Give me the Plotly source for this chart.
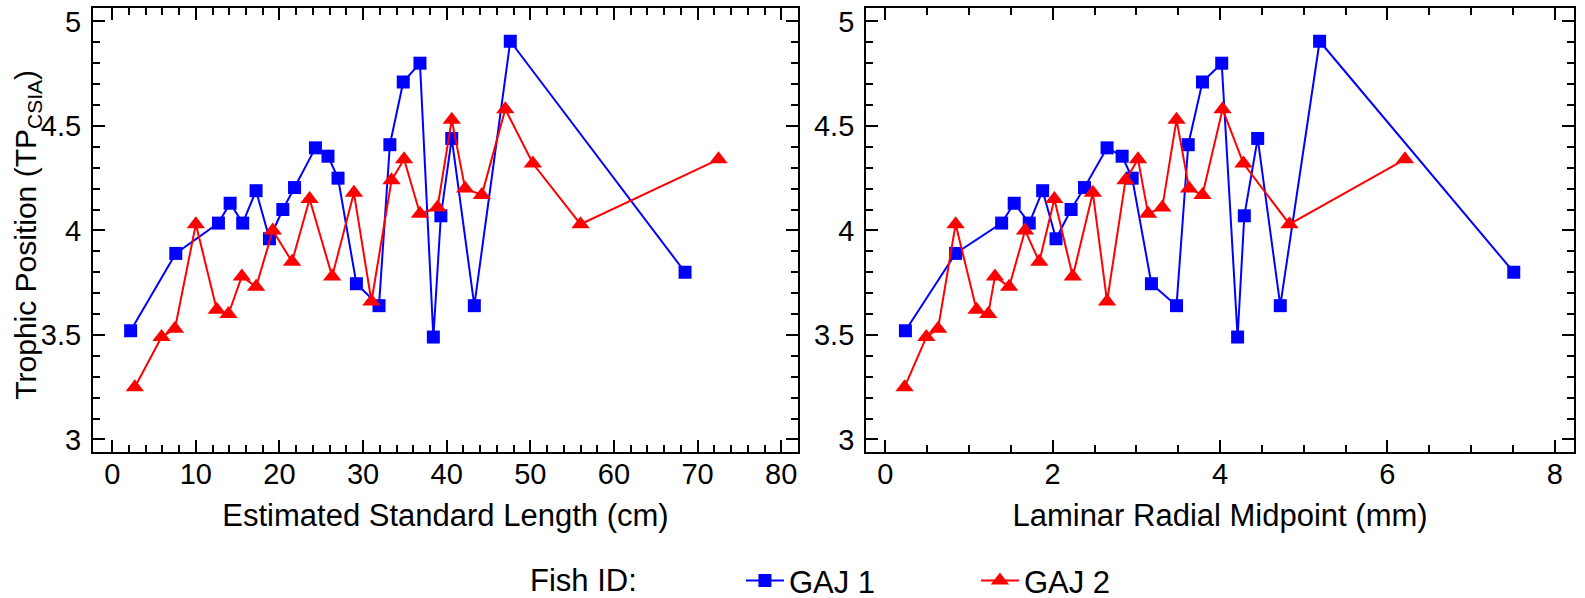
import plotly.graph_objects as go
from plotly.subplots import make_subplots

# ---- data ----
gaj1_length_cm = [2.2, 7.6, 12.7, 14.1, 15.6, 17.2, 18.8, 20.4, 21.8, 24.3, 25.8, 27.0,
                  29.2, 31.9, 33.2, 34.8, 36.8, 38.4, 39.3, 40.6, 43.3, 47.6, 68.5]
gaj1_radial_mm = [0.24, 0.84, 1.39, 1.54, 1.72, 1.88, 2.04, 2.22, 2.38, 2.65, 2.83, 2.95,
                  3.18, 3.48, 3.62, 3.79, 4.02, 4.21, 4.29, 4.45, 4.72, 5.19, 7.51]
gaj1_tp = [3.52, 3.89, 4.035, 4.13, 4.035, 4.19, 3.96, 4.10, 4.205, 4.395, 4.355, 4.25,
           3.745, 3.64, 4.41, 4.71, 4.80, 3.49, 4.07, 4.44, 3.64, 4.905, 3.80]

gaj2_length_cm = [2.7, 5.9, 7.5, 10.0, 12.5, 13.9, 15.5, 17.2, 19.2, 21.5, 23.6, 26.3,
                  28.9, 31.0, 33.4, 34.9, 36.8, 38.9, 40.6, 42.2, 44.2, 47.0, 50.3, 56.0, 72.5]
gaj2_radial_mm = [0.23, 0.49, 0.63, 0.84, 1.09, 1.23, 1.31, 1.48, 1.67, 1.84, 2.02, 2.24,
                  2.48, 2.65, 2.87, 3.02, 3.14, 3.31, 3.48, 3.63, 3.79, 4.03, 4.28, 4.83, 6.21]
gaj2_tp = [3.25, 3.49, 3.53, 4.03, 3.62, 3.60, 3.78, 3.73, 4.00, 3.85, 4.15, 3.78,
           4.18, 3.66, 4.24, 4.34, 4.08, 4.11, 4.53, 4.20, 4.17, 4.58, 4.32, 4.03, 4.34]

series_names = ["GAJ 1", "GAJ 2"]
x_titles = ["Estimated Standard Length (cm)", "Laminar Radial Midpoint (mm)"]
y_title = "Trophic Position (TP<sub>CSIA</sub>)"
legend_title = "Fish ID:"

BLUE = "#0000FF"
RED = "#FF0000"
FONT = "Liberation Sans, Arial, sans-serif"

fig = make_subplots(rows=1, cols=2, horizontal_spacing=0.046)

def add_series(x, y, name, color, symbol, size, col, show):
    fig.add_trace(go.Scatter(
        x=x, y=y, mode="lines+markers", name=name, legendgroup=name, showlegend=show,
        line=dict(color=color, width=2),
        marker=dict(color=color, symbol=symbol, size=size, line=dict(width=0)),
    ), row=1, col=col)

add_series(gaj1_length_cm, gaj1_tp, series_names[0], BLUE, "square", 13, 1, True)
add_series(gaj2_length_cm, gaj2_tp, series_names[1], RED, "triangle-up", 16, 1, True)
add_series(gaj1_radial_mm, gaj1_tp, series_names[0], BLUE, "square", 13, 2, False)
add_series(gaj2_radial_mm, gaj2_tp, series_names[1], RED, "triangle-up", 16, 2, False)

axis_common = dict(
    showline=True, linecolor="black", linewidth=2, mirror="ticks",
    ticks="inside", ticklen=12, tickwidth=2, tickcolor="black",
    showgrid=False, zeroline=False,
    tickfont=dict(family=FONT, size=29, color="black"),
    automargin=False,
)

fig.update_xaxes(axis_common)
fig.update_yaxes(axis_common)

fig.update_xaxes(row=1, col=1, domain=[0.0, 0.476], range=[-2.3, 82.0],
                 tickmode="linear", tick0=0, dtick=10, ticklabelstandoff=-5,
                 minor=dict(ticks="inside", ticklen=7, tickwidth=1.5, tickcolor="black",
                            tickmode="array", tickvals=list(range(0, 81, 2))),
                 title=dict(text=x_titles[0], font=dict(family=FONT, size=31, color="black"), standoff=16))
fig.update_xaxes(row=1, col=2, domain=[0.522, 1.0], range=[-0.23, 8.23],
                 tickmode="linear", tick0=0, dtick=2, ticklabelstandoff=-5,
                 minor=dict(ticks="inside", ticklen=7, tickwidth=1.5, tickcolor="black", dtick=0.5),
                 title=dict(text=x_titles[1], font=dict(family=FONT, size=31, color="black"), standoff=16))

for c in (1, 2):
    fig.update_yaxes(row=1, col=c, range=[2.94, 5.064], tickmode="linear", tick0=3, dtick=0.5,
                     minor=dict(ticks="inside", ticklen=7, tickwidth=1.5, tickcolor="black", dtick=0.1),
                     ticklabelstandoff=4)

# y-axis title as rotated text
fig.add_annotation(text=y_title, xref="paper", yref="paper", x=-0.0444, y=0.49,
                   xanchor="center", yanchor="middle", textangle=-90, showarrow=False,
                   font=dict(family=FONT, size=30, color="black"))

fig.add_annotation(text=legend_title, xref="paper", yref="paper", x=0.369, y=-0.29,
                   xanchor="right", yanchor="middle", showarrow=False,
                   font=dict(family=FONT, size=31, color="black"))

fig.update_layout(
    width=1585, height=598,
    margin=dict(l=93, r=11, t=8, b=146, autoexpand=False),
    paper_bgcolor="white", plot_bgcolor="white",
    template="none",
    font=dict(family=FONT, size=29, color="black"),
    legend=dict(orientation="h", x=0.4375, xanchor="left", y=-0.29, yanchor="middle",
                font=dict(family=FONT, size=31, color="black"), itemwidth=38,
                bgcolor="rgba(0,0,0,0)", borderwidth=0, entrywidth=182),
)

fig.write_html("out.html")
